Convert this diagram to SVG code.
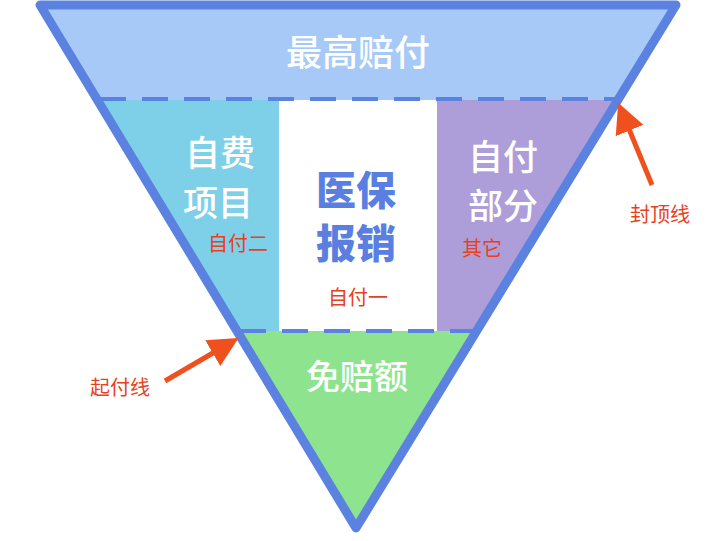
<svg xmlns="http://www.w3.org/2000/svg" width="715" height="541" viewBox="0 0 715 541">
<style>
.w{font-family:"Noto Sans CJK SC",sans-serif;fill:#fff;text-anchor:middle;font-weight:500}
.r{font-family:"Noto Sans CJK SC",sans-serif;fill:#e8401c;text-anchor:middle;font-size:20px}
.d{stroke:#5b82e0;stroke-width:4;stroke-dasharray:26,16;fill:none}
</style>
<defs><marker id="a" markerWidth="6" markerHeight="6" refX="4" refY="3" orient="auto" markerUnits="strokeWidth"><path d="M0,0 L6,3 L0,6 Z" fill="#f0501e"/></marker></defs>
<g id="top"><polygon points="40,5 676,5 618,100 97,100" fill="#a6c9f7"/><text class="w" x="358" y="66" font-size="36">最高赔付</text></g>
<g id="left"><polygon points="97,100 279,100 279,331 235,331" fill="#7dd0e8"/><text class="w" x="220" y="166" font-size="35">自费</text><text class="w" x="218" y="216" font-size="35">项目</text><text class="r" x="238" y="251">自付二</text></g>
<g id="center"><rect x="279" y="100" width="158" height="231" fill="#fff"/><text x="356" y="205" font-size="40" font-weight="900" text-anchor="middle" font-family="Noto Sans CJK SC,sans-serif" fill="#5a7fe0">医保</text><text x="356" y="258" font-size="40" font-weight="900" text-anchor="middle" font-family="Noto Sans CJK SC,sans-serif" fill="#5a7fe0">报销</text><text class="r" x="358" y="305">自付一</text></g>
<g id="right"><polygon points="437,100 618,100 477,331 437,331" fill="#ad9dd9"/><text class="w" x="503" y="170" font-size="35">自付</text><text class="w" x="503" y="219" font-size="35">部分</text><text class="r" x="482" y="256">其它</text></g>
<g id="bottom"><polygon points="235,331 477,331 356,528" fill="#8ee38e"/><text class="w" x="357" y="389" font-size="34">免赔额</text></g>
<g id="connectors">
<polygon points="40,5 676,5 356,528" fill="none" stroke="#5b82e0" stroke-width="9" stroke-linejoin="round"/>
<line class="d" x1="100" y1="99" x2="618" y2="99"/>
<line class="d" x1="240" y1="331" x2="477" y2="331"/>
<line x1="652" y1="185" x2="622" y2="112" stroke="#f0501e" stroke-width="5" marker-end="url(#a)"/>
<line x1="165" y1="381" x2="230" y2="343" stroke="#f0501e" stroke-width="5" marker-end="url(#a)"/>
</g>
<text class="r" x="660" y="222">封顶线</text>
<text class="r" x="120" y="395">起付线</text>
</svg>
